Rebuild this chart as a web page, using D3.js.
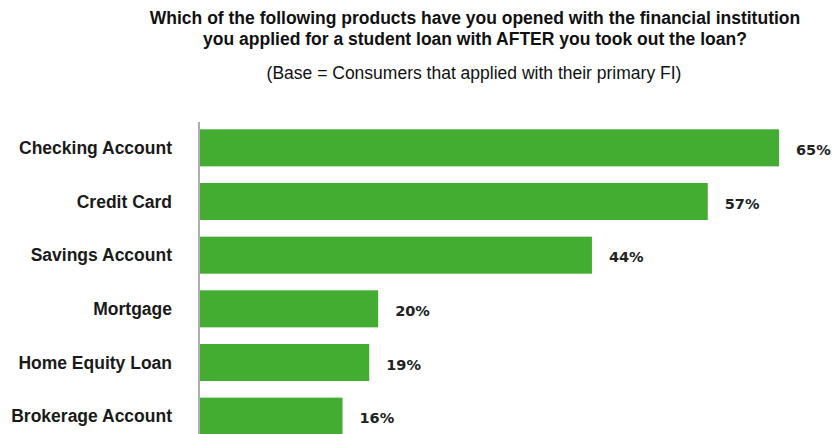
<!DOCTYPE html>
<html>
<head>
<meta charset="utf-8">
<script src="https://cdn.jsdelivr.net/npm/d3@7"></script>
<style>
  body { margin: 0; background: #fff; }
  svg { display: block; }
</style>
</head>
<body>
<svg id="chart"></svg>
<script>
// categories and values
const categories = ["Checking Account", "Credit Card", "Savings Account", "Mortgage", "Home Equity Loan", "Brokerage Account"];
const values = [65, 57, 44, 20, 19, 16];
const titleLines = [
    "Which of the following products have you opened with the financial institution",
    "you applied for a student loan with AFTER you took out the loan?"
];
const subtitle = "(Base = Consumers that applied with their primary FI)";

const width = 835;
const height = 434;

const svg = d3.select("#chart")
    .attr("width", width)
    .attr("height", height)
    .attr("viewBox", [0, 0, width, height]);

// scales
const x = d3.scaleLinear().domain([0, 65]).range([200, 779]);
const y = d3.scaleBand()
    .domain(categories)
    .range([121, 443])
    .paddingInner(0.31)
    .paddingOuter(0.155);

// title
svg.append("g").selectAll("text")
    .data(titleLines)
    .join("text")
    .attr("x", 475)
    .attr("y", (d, i) => 24 + i * 20.5)
    .attr("text-anchor", "middle")
    .attr("font-family", "Liberation Sans, Arial, sans-serif")
    .attr("font-weight", "bold")
    .attr("font-size", 17.5)
    .attr("fill", "#111")
    .text(d => d);

svg.append("text")
    .attr("x", 474)
    .attr("y", 79)
    .attr("text-anchor", "middle")
    .attr("font-family", "Liberation Sans, Arial, sans-serif")
    .attr("font-size", 17.5)
    .attr("fill", "#111")
    .text(subtitle);

// bars
svg.append("g").selectAll("rect")
    .data(categories)
    .join("rect")
    .attr("x", x(0))
    .attr("y", d => y(d))
    .attr("width", (d, i) => x(values[i]) - x(0))
    .attr("height", y.bandwidth())
    .attr("fill", "#43ad32");

// left axis: just the line and category labels
const yAxis = svg.append("g")
    .attr("transform", `translate(${x(0) - 1},0)`)
    .call(d3.axisLeft(y).tickSize(0).tickPadding(27));

yAxis.select(".domain")
    .attr("d", `M0,122V${height}`)
    .attr("stroke", "#b0aab4")
    .attr("stroke-width", 2);

yAxis.selectAll(".tick text")
    .attr("font-family", "Liberation Sans, Arial, sans-serif")
    .attr("font-weight", "bold")
    .attr("font-size", 17.5)
    .attr("fill", "#1a1a1a")
    .attr("dy", "0.35em");

// value labels
svg.append("g").selectAll("text")
    .data(categories)
    .join("text")
    .attr("x", (d, i) => x(values[i]) + 17)
    .attr("y", d => y(d) + y.bandwidth() / 2 + 2)
    .attr("dy", "0.35em")
    .attr("font-family", "DejaVu Sans, sans-serif")
    .attr("font-weight", "bold")
    .attr("font-size", 14.5)
    .attr("fill", "#222")
    .text((d, i) => values[i] + "%");
</script>
</body>
</html>
